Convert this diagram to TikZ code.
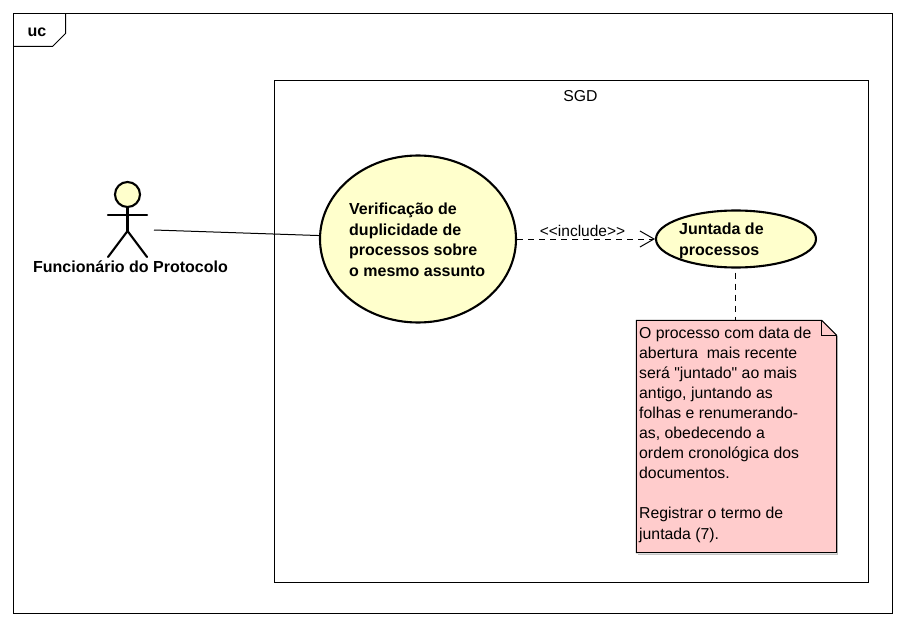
\documentclass[tikz,border=0pt]{standalone}
\usepackage{fontspec}
\setmainfont{Liberation Sans}
\newfontfamily\rawquote{Liberation Sans}
\usetikzlibrary{arrows.meta,shapes.geometric}
\definecolor{ucfill}{HTML}{FFFFCC}
\definecolor{notefill}{HTML}{FFCCCC}
\definecolor{noteshadow}{HTML}{C4C4C4}
\tikzset{
  frameline/.style={draw=black,line width=1pt},
  usecase/.style={shape=ellipse,draw=black,fill=ucfill,line width=2.1pt,inner sep=0pt},
  actorline/.style={draw=black,line width=2.1pt,line cap=round},
  lbl/.style={inner sep=0pt,anchor=base west,align=left,font=\fontsize{15.8}{20.1}\selectfont},
  boldlbl/.style={lbl,font=\fontsize{16}{20.5}\selectfont\bfseries},
  assoc/.style={draw=black,line width=1pt},
  dep/.style={draw=black,line width=1pt,dash pattern=on 6pt off 5pt},
  openhead/.style={-{Straight Barb[length=14pt,width=16pt,line width=1pt]}},
  notebox/.style={inner sep=0pt,minimum width=200pt,minimum height=232pt}
}
\begin{document}
\begin{tikzpicture}[x=1pt,y=-1pt]
\useasboundingbox (0,0) rectangle (905,626);
\fill[white] (0,0) rectangle (905,626);
% outer frame
\draw[frameline] (13.5,13.5) rectangle (892.5,613.5);
\draw[frameline] (13.5,46.5) -- (52.5,46.5) -- (65.5,33.5) -- (65.5,13.5);
\node[boldlbl] (frametitle) at (27.5,37) {uc};
% system
\draw[frameline] (274.5,80.5) rectangle (868.5,582.5);
\node[lbl,anchor=base] (sgd) at (580.5,101) {SGD};
% use cases
\node[usecase,minimum width=196pt,minimum height=167pt] (verif) at (418,239) {};
\node[boldlbl] (veriftext) at (349,276.2) {Verificação de\\duplicidade de\\processos sobre\\o mesmo assunto};
\node[usecase,minimum width=160pt,minimum height=57pt] (junt) at (736,239) {};
\node[boldlbl] (jtext) at (679,255) {Juntada de\\processos};
% actor
\node[shape=circle,draw=black,fill=ucfill,line width=2.1pt,minimum size=25pt,inner sep=0pt] (head) at (127.5,194.5) {};
\coordinate (hip) at (127.5,231);
\coordinate (armL) at (108,215);
\coordinate (armR) at (147,215);
\coordinate (legL) at (108,257);
\coordinate (legR) at (147,257);
\draw[actorline,line cap=butt] (head.south) -- (hip);
\draw[actorline] (armL) -- (armR);
\draw[actorline] (legL) -- (hip) -- (legR);
\node[boldlbl,anchor=base] (actorname) at (130.5,272.7) {Funcionário do Protocolo};
\coordinate (actorport) at (154,230);
\draw[assoc] (actorport) -- (verif.178);
% include
\draw[dep,openhead] (verif.east) -- (junt.west);
\node[lbl,anchor=base,font=\fontsize{15.5}{20}\selectfont] (inc) at (582.5,236) {{<}{<}include{>}{>}};
% note
\node[notebox] (note) at (736.5,436.5) {};
\fill[noteshadow] ([shift={(2pt,-1.5pt)}]note.south west) rectangle ([shift={(1.5pt,-1pt)}]note.south east);
\fill[noteshadow] ([shift={(0pt,-16pt)}]note.north east) rectangle ([shift={(1.5pt,-1pt)}]note.south east);
\draw[frameline,fill=notefill] (note.north west) -- ([xshift=-15pt]note.north east) -- ([yshift=-15pt]note.north east) -- (note.south east) -- (note.south west) -- cycle;
\draw[frameline] ([xshift=-15pt]note.north east) -- ([xshift=-15pt,yshift=-15pt]note.north east) -- ([yshift=-15pt]note.north east);
\node[lbl] (notetext) at (639,539) {O processo com data de\\abertura\ \ mais recente\\será {\rawquote\symbol{34}}juntado{\rawquote\symbol{34}} ao mais\\antigo, juntando as\\folhas e renumerando-\\as, obedecendo a\\ordem cronológica dos\\documentos.\\[20.1pt]Registrar o termo de\\juntada (7).};
\draw[dep,shorten <=4pt] ([xshift=-0.5pt]junt.south) -- ([xshift=-0.5pt]junt.south |- note.north);
\end{tikzpicture}
\end{document}
